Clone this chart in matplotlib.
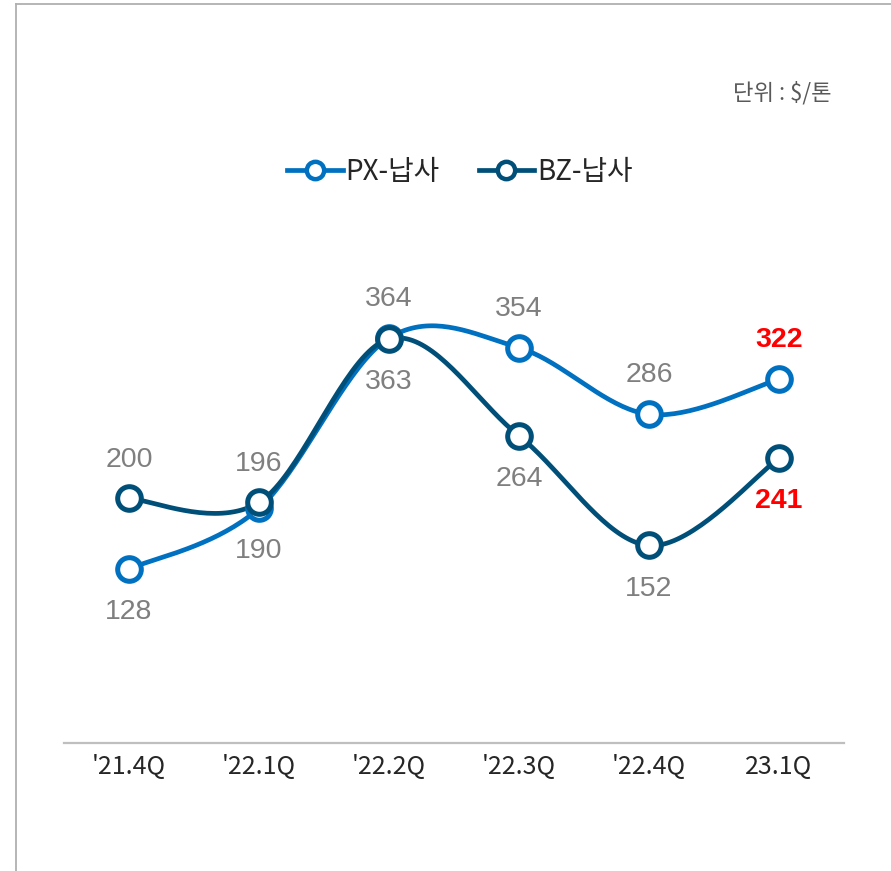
import numpy as np
import matplotlib
matplotlib.use("Agg")
import matplotlib.pyplot as plt
from matplotlib.lines import Line2D

categories = ["'21.4Q", "'22.1Q", "'22.2Q", "'22.3Q", "'22.4Q", "23.1Q"]
px_values = [128, 190, 364, 354, 286, 322]
bz_values = [200, 196, 363, 264, 152, 241]
series_names = ["PX-납사", "BZ-납사"]
unit_text = "단위 : $/톤"

PX_COLOR = "#0070C0"
BZ_COLOR = "#004F79"
LABEL_GRAY = "#7F7F7F"

plt.rcParams['font.family'] = ['Noto Sans CJK KR', 'DejaVu Sans']

W, H = 891, 871
fig = plt.figure(figsize=(W / 100, H / 100), dpi=100)

ax = fig.add_axes([64 / W, 1 - 743.2 / H, 780 / W, 489.4 / H])
ax.set_xlim(-0.5, len(categories) - 0.5)
ax.set_ylim(-50, 450)


def smooth(xs, ys, n=40):
    xs = np.asarray(xs, float)
    ys = np.asarray(ys, float)
    P = np.column_stack([xs, ys])
    out = []
    m = len(P)
    for i in range(m - 1):
        p0 = P[i - 1] if i > 0 else P[i]
        p1 = P[i]
        p2 = P[i + 1]
        p3 = P[i + 2] if i + 2 < m else P[i + 1]
        c1 = p1 + (p2 - p0) / 6.0
        c2 = p2 - (p3 - p1) / 6.0
        t = np.linspace(0, 1, n)[:, None]
        seg = ((1 - t) ** 3) * p1 + 3 * ((1 - t) ** 2) * t * c1 + 3 * (1 - t) * t ** 2 * c2 + t ** 3 * p2
        out.append(seg if i == 0 else seg[1:])
    seg = np.vstack(out)
    return seg[:, 0], seg[:, 1]


x = np.arange(len(categories))
lw = 3.4
for vals, col in [(px_values, PX_COLOR), (bz_values, BZ_COLOR)]:
    sx, sy = smooth(x, vals)
    ax.plot(sx, sy, color=col, lw=lw, solid_capstyle='round', zorder=3)
for vals, col in [(px_values, PX_COLOR), (bz_values, BZ_COLOR)]:
    ax.plot(x, vals, ls='none', marker='o', markersize=17, markerfacecolor='white',
            markeredgecolor=col, markeredgewidth=3.6, zorder=4)

# data labels
last = len(categories) - 1
for i, (p, b) in enumerate(zip(px_values, bz_values)):
    px_above = i not in (0, 1)
    bz_above = i in (0, 1)
    for v, above in [(p, px_above), (b, bz_above)]:
        off = 28 if above else -31
        kw = dict(color=LABEL_GRAY, fontsize=20.5, fontfamily=['Liberation Sans'])
        if i == last:
            kw = dict(color='#FF0000', fontsize=20.5, fontweight='bold', fontfamily=['Liberation Sans'])
        ax.annotate(str(v), (i, v), xytext=(0, off), textcoords='offset points',
                    ha='center', va='center', zorder=5, **kw)

# axes styling
for s in ['top', 'right', 'left']:
    ax.spines[s].set_visible(False)
ax.spines['bottom'].set_color('#BFBFBF')
ax.spines['bottom'].set_linewidth(1.6)
ax.set_yticks([])
ax.set_xticks(x)
ax.set_xticklabels(categories, fontsize=18, color='#262626')
ax.tick_params(axis='x', length=0, pad=8)

# legend
handles = [
    Line2D([], [], color=PX_COLOR, lw=3.4, marker='o', markersize=12.5,
           markerfacecolor='white', markeredgecolor=PX_COLOR, markeredgewidth=3.2),
    Line2D([], [], color=BZ_COLOR, lw=3.4, marker='o', markersize=12.5,
           markerfacecolor='white', markeredgecolor=BZ_COLOR, markeredgewidth=3.2),
]
fig.legend(handles, series_names, loc='center', bbox_to_anchor=(0.516, 1 - 172 / H),
           ncol=2, frameon=False, fontsize=20, handlelength=2.0, handletextpad=0.1,
           columnspacing=1.4, labelcolor='#262626')

# unit text
fig.text(832 / W, 1 - 93 / H, unit_text, ha='right', va='center', fontsize=16, color='#595959')

# frame lines (top and left)
fig.add_artist(Line2D([15.5 / W, 1], [1 - 4.5 / H, 1 - 4.5 / H], color='#B0B0B0', lw=1.3))
fig.add_artist(Line2D([15.5 / W, 15.5 / W], [0, 1 - 4.5 / H], color='#B0B0B0', lw=1.3))

fig.savefig("out.png", dpi=100)
